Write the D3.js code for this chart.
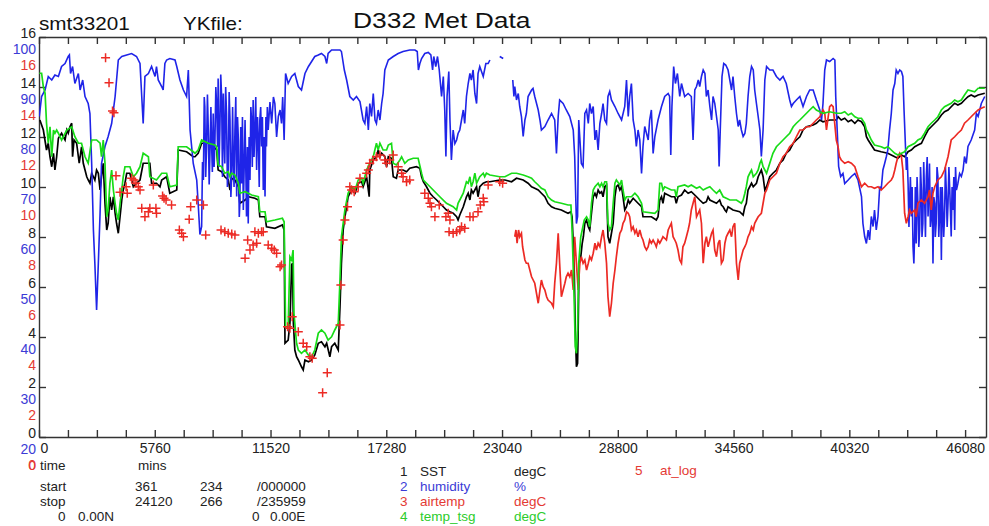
<!DOCTYPE html>
<html>
<head>
<meta charset="utf-8">
<style>
  body { margin: 0; background: #fff; }
  svg text { font-family: "Liberation Sans", Arial, Helvetica, sans-serif; }
</style>
</head>
<body>
<div id="chart"></div>
<script src="https://d3js.org/d3.v7.min.js"></script>
<script>
// time is in days since start (x axis is shown in minutes), values in chart units
var sstData = [
  [0.03,12.68],[0.15,12.28],[0.26,11.48],[0.32,11.75],[0.38,11.21],[0.44,10.81],[0.50,11.35],[0.55,10.68],
  [0.61,11.21],[0.67,11.95],[0.78,12.15],[0.84,12.01],[0.90,11.88],[0.96,12.28],[1.01,12.15],[1.07,12.41],
  [1.13,12.55],[1.16,11.21],[1.21,11.88],[1.30,11.75],[1.39,10.95],[1.47,11.61],[1.53,10.95],[1.59,10.68],
  [1.65,10.41],[1.70,10.28],[1.76,10.15],[1.82,10.55],[1.88,10.41],[1.93,10.28],[1.99,10.68],[2.05,10.55],
  [2.11,9.88],[2.16,10.41],[2.22,10.95],[2.28,9.35],[2.34,8.28],[2.39,8.55],[2.45,9.61],[2.51,9.08],
  [2.57,9.61],[2.63,8.95],[2.68,8.55],[2.74,8.15],[2.80,8.81],[2.86,9.48],[2.91,9.88],[2.97,10.15],
  [3.03,10.55],[3.14,10.55],[3.26,10.01],[3.37,10.15],[3.49,10.28],[3.60,10.95],[3.72,10.95],[3.83,10.95],
  [3.89,10.15],[4.06,10.15],[4.18,10.01],[4.24,10.28],[4.41,10.41],[4.52,9.75],[4.76,9.88],[4.81,11.48],
  [5.10,11.41],[5.33,11.21],[5.39,11.21],[5.50,11.35],[5.62,11.75],[5.85,11.75],[6.08,11.55],[6.14,11.48],
  [6.19,10.68],[6.31,10.61],[6.42,10.41],[6.54,10.28],[6.60,9.88],[6.66,10.35],[6.77,10.28],[6.89,10.01],
  [6.94,9.35],[7.12,9.48],[7.23,9.61],[7.46,9.55],[7.58,9.48],[7.63,8.81],[7.81,8.81],[7.86,8.41],
  [8.15,8.35],[8.41,8.48],[8.47,8.28],[8.50,3.75],[8.61,3.88],[8.67,4.55],[8.73,6.88],[8.76,6.95],
  [8.79,4.55],[8.84,3.48],[8.90,3.21],[8.96,3.08],[9.07,2.81],[9.13,2.68],[9.19,3.08],[9.31,3.01],
  [9.42,3.08],[9.53,3.28],[9.65,3.75],[9.76,3.81],[9.88,3.61],[9.94,3.75],[10.05,3.21],[10.11,3.61],
  [10.22,3.75],[10.34,3.48],[10.40,5.21],[10.45,6.95],[10.51,8.28],[10.57,8.81],[10.63,9.21],[10.68,9.61],
  [10.74,9.75],[10.80,9.88],[10.92,9.75],[11.03,10.15],[11.15,10.21],[11.20,10.01],[11.32,10.41],[11.41,9.61],
  [11.43,10.68],[11.55,11.08],[11.66,11.21],[11.72,11.48],[11.78,11.21],[11.84,11.35],[11.95,11.21],[12.01,10.81],
  [12.07,11.21],[12.18,11.15],[12.24,10.41],[12.35,10.35],[12.41,10.68],[12.58,10.68],[12.70,10.61],[12.81,10.75],
  [13.04,10.81],[13.16,10.75],[13.22,10.41],[13.28,10.21],[13.39,10.01],[13.51,9.75],[13.62,9.61],[13.74,9.48],
  [13.85,9.35],[13.97,9.21],[14.08,9.08],[14.20,9.01],[14.31,8.95],[14.43,8.81],[14.48,8.68],[14.54,8.88],
  [14.66,9.21],[14.77,9.61],[14.83,9.75],[14.89,9.48],[14.94,9.88],[15.00,9.75],[15.12,10.01],[15.17,9.61],
  [15.23,10.01],[15.35,10.15],[15.46,10.21],[15.58,10.21],[15.92,10.28],[16.10,10.28],[16.33,10.21],[16.50,10.35],
  [16.73,10.28],[16.90,10.15],[17.02,10.01],[17.13,9.95],[17.25,9.88],[17.36,9.75],[17.48,9.61],[17.59,9.35],
  [17.71,9.21],[17.82,9.15],[18.05,9.08],[18.17,9.01],[18.28,8.95],[18.38,9.01],[18.42,8.81],[18.49,6.95],
  [18.53,4.28],[18.57,2.81],[18.61,2.95],[18.63,4.28],[18.66,6.95],[18.72,7.21],[18.77,7.75],[18.81,8.01],
  [18.86,8.55],[18.92,8.68],[18.98,8.41],[19.03,8.28],[19.09,8.95],[19.15,9.61],[19.21,9.75],[19.26,9.61],
  [19.32,9.88],[19.38,9.75],[19.44,9.81],[19.49,9.61],[19.55,10.01],[19.61,10.08],[19.66,8.01],[19.72,7.75],
  [19.78,8.15],[19.84,8.55],[19.90,9.61],[19.95,10.01],[20.01,10.08],[20.07,9.88],[20.13,10.01],[20.18,9.61],
  [20.24,9.08],[20.30,9.21],[20.36,9.48],[20.41,9.35],[20.53,9.55],[20.70,9.35],[20.82,9.21],[20.87,8.81],
  [21.16,8.81],[21.33,8.68],[21.39,8.81],[21.45,9.48],[21.51,9.61],[21.56,9.35],[21.62,9.75],[21.85,9.61],
  [21.97,9.61],[22.02,9.35],[22.08,9.61],[22.20,9.68],[22.31,9.88],[22.43,9.75],[22.54,9.81],[22.72,9.61],
  [22.83,9.48],[22.95,9.35],[23.06,9.41],[23.12,9.61],[23.18,9.48],[23.41,9.35],[23.52,9.48],[23.58,9.28],
  [23.64,9.21],[23.70,9.08],[23.75,9.01],[23.81,9.21],[23.98,9.08],[24.21,9.01],[24.33,8.88],[24.39,9.21],
  [24.44,9.35],[24.50,9.88],[24.62,10.15],[24.68,10.01],[24.79,10.15],[24.85,10.41],[24.96,10.68],[25.02,10.41],
  [25.08,9.88],[25.14,10.01],[25.25,10.41],[25.36,10.55],[25.48,10.68],[25.60,10.95],[25.71,11.08],[25.82,11.35],
  [25.94,11.48],[26.06,11.75],[26.17,11.88],[26.29,12.01],[26.40,12.28],[26.52,12.41],[26.75,12.48],[26.86,12.55],
  [26.98,12.68],[27.09,12.61],[27.32,12.68],[27.55,12.68],[27.61,12.81],[27.72,12.68],[27.84,12.75],[27.96,12.61],
  [28.07,12.68],[28.19,12.55],[28.30,12.68],[28.42,12.61],[28.53,12.41],[28.59,12.01],[28.65,11.88],[28.76,11.68],
  [28.87,11.48],[29.10,11.41],[29.33,11.35],[29.45,11.28],[29.57,11.21],[29.68,11.15],[29.80,11.28],[29.91,11.21],
  [30.03,11.41],[30.14,11.48],[30.26,11.61],[30.37,11.68],[30.49,11.75],[30.60,12.01],[30.72,12.28],[30.83,12.41],
  [30.95,12.55],[31.06,12.68],[31.18,12.88],[31.29,13.01],[31.41,13.08],[31.52,13.21],[31.64,13.35],[31.75,13.28],
  [31.87,13.35],[31.98,13.48],[32.10,13.61],[32.21,13.68],[32.33,13.61],[32.45,13.68],[32.68,13.75]
];

var humidityData = [
  [0.01,84.1],[0.09,88.1],[0.21,89.4],[0.32,92.1],[0.44,91.4],[0.55,92.4],[0.67,92.1],[0.78,94.1],
  [0.90,94.7],[1.01,96.1],[1.05,96.4],[1.09,92.7],[1.16,94.1],[1.24,90.7],[1.36,92.7],[1.42,89.4],
  [1.51,91.4],[1.59,88.1],[1.70,86.7],[1.76,84.7],[1.82,74.7],[1.88,61.4],[1.93,54.7],[1.99,45.4],
  [2.05,54.7],[2.11,64.7],[2.16,74.7],[2.28,78.1],[2.39,80.1],[2.51,82.7],[2.63,88.1],[2.74,95.4],
  [2.86,96.1],[3.03,96.4],[3.20,96.7],[3.37,96.1],[3.49,94.7],[3.55,88.1],[3.60,82.7],[3.66,92.1],
  [3.78,92.7],[3.89,94.1],[4.01,92.1],[4.06,94.1],[4.12,91.4],[4.24,90.1],[4.29,89.4],[4.35,94.7],
  [4.41,95.4],[4.52,95.7],[4.70,95.4],[4.76,94.1],[4.87,91.4],[4.99,89.4],[5.10,88.1],[5.16,93.4],
  [5.22,81.4],[5.33,74.7],[5.45,71.4],
  [5.50,66.7],[5.56,60.5],[5.62,62.1],[5.65,75.0],[5.68,71.4],[5.71,88.0],[5.73,86.1],[5.76,72.0],
  [5.79,78.1],[5.82,88.5],[5.85,81.4],[5.88,70.5],[5.91,77.4],[5.94,86.0],[5.96,79.4],[5.99,73.0],
  [6.02,84.7],[6.05,74.0],[6.08,79.4],[6.11,90.0],[6.14,86.1],[6.17,78.0],[6.19,91.7],[6.22,74.0],
  [6.25,81.4],[6.28,92.5],[6.31,88.1],[6.34,72.0],[6.37,88.7],[6.40,79.0],[6.42,74.7],[6.45,90.0],
  [6.48,84.7],[6.51,70.0],[6.54,73.4],[6.57,89.0],[6.60,83.4],[6.63,68.0],[6.66,72.7],[6.69,86.0],
  [6.71,76.1],[6.74,70.0],[6.77,81.4],[6.80,88.0],[6.83,68.1],[6.86,84.0],[6.89,79.4],[6.92,64.0],
  [6.94,66.7],[6.97,82.0],[7.00,70.7],[7.03,84.0],[7.06,65.4],[7.09,74.0],[7.12,83.4],[7.15,72.0],
  [7.17,64.1],[7.20,78.0],[7.23,62.7],[7.26,80.0],[7.29,71.4],[7.32,86.0],[7.35,82.7],[7.37,74.0],
  [7.40,87.4],[7.43,76.0],[7.46,81.4],[7.49,88.0],[7.52,73.4],[7.55,84.0],[7.58,79.4],[7.61,70.0],
  [7.63,83.4],[7.66,86.0],[7.69,78.1],[7.72,84.0],[7.75,69.4],[7.78,80.0],[7.81,68.1],[7.84,84.0],
  [7.86,78.1],[7.89,86.0],[7.92,81.4],[7.98,87.0],[8.04,82.7],[8.10,88.0],[8.15,86.7],[8.21,80.0],
  [8.27,84.1],[8.33,85.4],[8.38,82.7],[8.42,88.0],[8.47,79.4],
  [8.52,92.7],[8.61,90.7],[8.73,92.1],[8.84,92.7],[8.96,90.1],[9.07,89.4],[9.19,92.7],[9.31,94.1],
  [9.42,95.1],[9.53,96.1],[9.65,96.4],[9.76,96.7],[9.88,96.1],[9.94,94.7],[9.99,96.7],[10.11,97.4],
  [10.22,97.4],[10.40,97.4],[10.45,97.1],[10.55,93.4],[10.63,91.4],[10.74,88.1],[10.86,87.4],[10.97,88.1],
  [11.09,87.1],[11.20,83.4],
  [11.26,82.7],[11.32,86.1],[11.38,81.4],[11.43,86.7],[11.49,84.1],[11.55,88.7],[11.61,83.4],[11.66,82.7],
  [11.72,85.4],[11.78,83.4],[11.84,86.7],[11.89,88.7],[11.95,93.4],[12.07,95.4],[12.24,96.1],[12.41,96.7],
  [12.58,97.1],[12.81,97.4],[12.99,97.4],[13.07,97.1],[13.11,93.4],[13.16,94.7],[13.22,95.7],[13.33,96.7],
  [13.45,96.9],[13.54,96.4],[13.60,93.4],[13.64,96.1],[13.71,94.1],[13.77,96.1],[13.83,93.4],[13.91,88.1],
  [13.97,92.1],[14.02,85.4],[14.06,76.1],[14.10,88.1],[14.16,93.1],[14.20,83.4],[14.25,75.4],[14.31,81.4],
  [14.37,78.7],[14.43,79.4],[14.48,80.7],[14.54,81.4],[14.60,83.4],[14.66,85.4],[14.71,82.7],[14.77,88.1],
  [14.83,90.7],[14.89,92.7],[14.94,91.4],[15.00,93.4],[15.06,88.7],[15.12,86.7],[15.17,92.7],[15.23,94.1],
  [15.35,92.1],[15.44,94.7],[15.52,94.7],[15.58,95.4],[15.70,null],[15.92,96.1],[16.04,95.7],[16.20,null],
  [16.37,91.4],[16.41,88.1],[16.44,90.1],[16.50,87.4],[16.56,88.7],[16.61,86.1],[16.67,84.1],[16.73,80.1],
  [16.79,83.4],
  [16.84,84.7],[16.90,88.1],[17.02,89.4],[17.07,89.7],[17.13,88.1],[17.25,85.4],[17.31,83.4],[17.36,81.4],
  [17.48,82.1],[17.59,83.4],[17.71,84.7],[17.82,83.4],[17.88,76.7],[17.94,84.1],[17.99,87.4],[18.11,86.7],
  [18.22,85.4],[18.34,84.1],[18.46,81.4],[18.51,76.1],[18.57,62.7],[18.61,64.1],[18.65,83.4],[18.74,74.7],
  [18.80,74.1],[18.86,84.7],[18.92,85.4],[18.98,82.7],[19.03,86.7],[19.09,84.7],[19.15,86.1],[19.21,79.4],
  [19.26,81.4],[19.32,77.4],[19.38,82.7],[19.44,84.7],[19.49,86.7],[19.55,83.4],[19.61,82.7],[19.66,88.1],
  [19.72,89.1],[19.78,87.4],[19.90,86.1],[20.01,84.7],[20.13,83.4],[20.24,86.1],[20.30,91.4],[20.36,84.1],
  [20.41,88.1],[20.47,90.7],[20.53,83.4],[20.59,81.4],[20.64,78.1],[20.70,81.4],[20.76,79.4],[20.82,72.7],
  [20.87,78.1],[20.93,82.1],[21.05,79.4],[21.10,83.4],[21.16,85.4],[21.22,76.7],[21.28,80.1],[21.39,83.4],
  [21.51,86.1],[21.62,88.1],[21.74,88.7],[21.79,88.1],[21.83,76.4],[21.87,86.1],[21.93,94.1],[21.99,90.7],
  [22.06,92.7],[22.14,88.1],[22.20,90.7],[22.31,88.1],[22.43,88.7],
  [22.54,88.1],[22.60,79.4],[22.66,89.4],[22.72,90.1],[22.78,91.4],[22.83,90.1],[22.89,92.1],[22.95,93.4],
  [23.01,92.7],[23.06,88.1],[23.12,89.4],[23.18,86.1],[23.24,83.4],[23.29,88.1],[23.35,86.7],[23.41,84.1],
  [23.47,81.4],[23.50,74.1],[23.54,81.4],[23.60,92.1],[23.66,94.7],[23.73,94.4],[23.81,93.4],[23.87,91.4],
  [23.93,89.4],[23.98,92.1],[24.04,88.1],[24.10,84.7],[24.16,82.1],[24.21,83.4],[24.27,81.4],[24.33,80.1],
  [24.39,80.7],[24.44,82.7],[24.50,88.1],[24.56,92.1],[24.62,94.1],[24.68,93.4],[24.73,89.4],[24.79,86.7],
  [24.85,84.1],[24.91,81.4],[24.96,76.1],[25.02,81.4],[25.08,91.4],[25.14,94.1],[25.25,93.4],[25.36,93.4],
  [25.48,92.1],[25.60,91.4],[25.71,92.1],[25.82,90.7],[25.94,87.4],[26.00,86.1],[26.06,86.7],[26.17,87.4],
  [26.29,88.1],[26.40,86.1],[26.52,88.1],[26.63,89.4],[26.75,89.4],[26.86,87.4],[26.98,85.4],[27.04,83.4],
  [27.09,86.7],[27.15,93.4],[27.21,95.4],[27.32,95.1],[27.44,95.7],[27.50,95.4],
  [27.53,88.1],[27.59,80.1],[27.63,74.1],[27.70,72.1],[27.78,72.7],[27.84,70.7],[27.96,71.4],[28.07,72.1],
  [28.19,72.7],[28.30,71.4],[28.42,68.1],[28.47,62.7],[28.53,60.1],[28.59,58.7],[28.65,61.4],[28.70,59.4],
  [28.76,64.1],[28.82,62.1],[28.87,65.4],[28.93,61.4],[28.99,64.1],[29.05,70.1],[29.10,69.4],[29.16,73.4],
  [29.22,74.7],[29.28,76.1],[29.33,77.4],[29.39,81.4],[29.45,84.7],[29.51,89.4],[29.57,90.7],[29.62,93.4],
  [29.68,92.7],[29.74,93.4],[29.80,93.1],[29.85,92.1],
  [29.89,85.4],[29.94,78.1],[29.97,73.4],[30.00,76.0],[30.03,70.7],[30.06,62.0],[30.08,66.7],[30.11,72.0],
  [30.14,64.1],[30.17,70.0],[30.20,58.1],[30.23,54.7],[30.26,61.4],[30.28,70.0],[30.31,58.7],[30.34,72.0],
  [30.37,66.7],[30.40,58.0],[30.43,61.4],[30.46,74.0],[30.49,69.4],[30.51,60.0],[30.54,62.7],[30.57,75.0],
  [30.60,68.1],[30.63,60.0],[30.66,72.1],[30.69,76.0],[30.72,64.1],[30.75,70.0],[30.77,74.7],[30.80,62.0],
  [30.83,64.1],[30.86,70.0],[30.89,54.7],[30.92,68.0],[30.95,66.7],[30.97,60.0],[31.00,62.7],[31.03,74.0],
  [31.06,72.1],[31.09,60.0],[31.12,64.7],[31.15,70.0],[31.18,55.4],[31.21,70.0],[31.23,66.1],[31.26,60.0],
  [31.29,64.1],[31.32,74.0],[31.35,69.4],[31.38,62.0],[31.41,66.7],[31.44,74.0],[31.47,69.4],[31.50,64.0],
  [31.52,60.1],[31.55,70.0],[31.58,65.4],[31.61,72.0],[31.64,61.4],[31.67,74.0],[31.70,69.4],[31.75,70.7],
  [31.81,72.7],[31.87,72.1],[31.93,73.4],[31.98,76.1],[32.04,74.7],[32.10,78.1],[32.21,79.4],[32.33,81.4],
  [32.39,84.7],[32.45,84.1],[32.56,86.7],[32.68,88.1]
];

var airtempData = [
  [16.44,8.01],[16.48,8.28],[16.52,7.75],[16.57,8.28],[16.61,8.01],[16.67,8.15],[16.71,7.61],[16.75,7.35],
  [16.79,7.08],[16.84,6.95],[16.90,6.95],[17.02,6.41],[17.13,6.15],[17.19,5.75],[17.25,5.35],[17.31,5.88],
  [17.36,6.28],[17.42,6.01],[17.48,5.88],[17.54,5.61],[17.59,5.48],[17.71,5.35],[17.77,5.21],[17.82,6.15],
  [17.88,6.95],[17.94,8.15],[17.99,6.95],[18.05,5.61],[18.11,5.88],[18.17,6.15],[18.22,6.41],[18.28,6.55],
  [18.34,6.41],[18.40,6.68],[18.46,5.88],[18.51,8.01],[18.57,6.95],[18.63,5.88],[18.69,6.95],[18.74,7.21],
  [18.80,6.95],[18.86,7.08],[18.92,6.68],[18.98,6.95],[19.03,7.21],[19.09,7.08],[19.15,7.35],[19.21,7.75],
  [19.26,7.48],[19.32,7.75],[19.38,7.61],[19.44,8.01],[19.49,8.28],[19.55,7.75],[19.61,6.95],[19.66,5.61],
  [19.72,4.81],[19.78,5.35],[19.84,6.15],[19.90,6.68],[19.95,7.21],[20.01,7.75],[20.07,8.15],[20.13,8.28],
  [20.18,8.55],[20.24,8.68],[20.30,9.01],[20.36,8.95],[20.41,8.81],[20.47,8.28],[20.53,8.41],[20.59,8.15],
  [20.64,8.28],[20.70,8.01],[20.76,8.28],[20.82,8.01],[20.87,7.88],[20.93,7.61],[20.99,7.48],[21.05,7.61],
  [21.10,7.88],[21.16,7.75],[21.22,7.88],[21.28,7.75],[21.33,7.61],[21.39,7.88],[21.45,7.75],[21.51,7.88],
  [21.56,8.01],[21.62,7.95],[21.68,7.88],[21.74,8.28],[21.79,8.41],[21.85,8.55],[21.91,8.01],[21.97,7.88],
  [22.02,7.75],[22.08,7.48],[22.14,7.08],[22.20,6.95],[22.25,7.61],[22.31,7.75],[22.37,8.01],[22.43,8.28],
  [22.48,8.55],[22.54,9.08],[22.60,9.35],[22.66,9.61],[22.72,8.81],[22.83,9.08],[22.89,8.55],[22.95,6.95],
  [23.01,7.75],[23.06,8.01],[23.12,7.61],[23.18,7.88],[23.24,8.15],[23.29,8.28],[23.35,7.48],[23.41,7.21],
  [23.47,7.75],[23.52,7.88],[23.58,6.95],[23.64,7.08],[23.70,7.75],[23.75,8.01],[23.81,8.15],[23.87,8.28],
  [23.93,8.01],[23.98,8.41],[24.04,8.55],[24.10,6.95],[24.16,6.28],[24.21,6.95],[24.27,7.21],[24.33,7.48],
  [24.39,7.61],[24.44,7.75],[24.50,8.01],[24.56,8.15],[24.62,8.41],[24.68,8.28],[24.73,8.55],[24.79,8.68],
  [24.85,8.81],[24.96,8.95],[25.02,9.35],[25.08,9.75],[25.14,9.88],[25.25,10.28],[25.36,10.41],[25.48,10.55],
  [25.60,10.95],[25.71,11.21],[25.82,11.35],[25.94,11.61],[26.06,11.75],[26.17,12.01],[26.29,12.28],[26.40,12.28],
  [26.52,12.41],[26.63,12.41],[26.75,12.55],[26.86,12.68],[26.98,12.81],[27.09,13.08],[27.15,12.95],[27.21,12.28],
  [27.27,12.81],[27.32,13.21],[27.38,13.28],[27.44,13.21],[27.55,11.88],[27.61,11.61],[27.66,11.21],[27.72,11.08],
  [27.84,10.95],[27.96,11.01],[28.07,10.95],[28.19,10.81],[28.30,10.41],[28.42,10.01],[28.53,10.15],[28.65,10.01],
  [28.76,10.01],[28.87,9.95],[28.99,10.01],[29.10,9.88],[29.22,10.01],[29.33,10.15],[29.45,10.28],[29.51,10.41],
  [29.57,10.68],[29.62,10.95],[29.68,11.21],[29.74,11.35],[29.80,11.21],[29.85,10.68],[29.91,8.95],[29.97,8.55],
  [30.03,8.81],[30.08,9.08],[30.14,8.95],[30.26,9.08],[30.31,8.81],[30.37,9.35],[30.49,9.48],[30.60,9.35],
  [30.72,9.61],[30.77,9.88],[30.83,9.08],[30.89,9.75],[30.95,10.01],[31.06,10.28],[31.18,10.41],[31.29,10.68],
  [31.41,11.21],[31.52,11.88],[31.64,12.01],[31.75,12.15],[31.87,12.28],[31.98,12.55],[32.10,12.68],[32.21,12.81],
  [32.33,12.95],[32.45,13.08],[32.56,13.15],[32.68,13.21]
];

var tsgData = [
  [0.01,14.55],[0.09,14.55],[0.15,14.01],[0.21,13.75],[0.26,12.55],[0.32,11.75],[0.38,12.41],[0.44,11.21],
  [0.50,12.28],[0.55,12.15],[0.61,12.28],[0.67,12.15],[0.78,11.88],[0.96,12.28],[1.13,12.41],[1.24,12.01],
  [1.36,11.75],[1.47,11.75],[1.59,11.21],[1.70,10.95],[1.82,11.88],[1.99,11.88],[2.11,11.75],[2.16,11.21],
  [2.22,11.88],[2.28,10.95],[2.34,8.81],[2.39,9.08],[2.45,10.15],[2.51,10.68],[2.57,9.88],[2.63,9.35],
  [2.68,8.95],[2.74,8.68],[2.80,9.35],[2.86,9.88],[2.91,10.41],[2.97,10.81],[3.14,10.81],[3.26,10.41],
  [3.37,10.55],[3.49,10.81],[3.60,11.35],[3.78,11.21],[3.83,10.41],[4.06,10.28],[4.24,10.55],[4.41,10.55],
  [4.52,10.01],[4.76,10.08],[4.81,11.61],[5.10,11.61],[5.33,11.41],[5.39,11.35],[5.50,11.48],[5.62,11.88],
  [5.85,11.75],[6.08,11.68],[6.14,11.61],[6.19,10.88],[6.31,10.81],[6.42,10.55],[6.54,10.61],[6.60,10.41],
  [6.66,10.55],[6.77,10.48],[6.89,10.15],[6.94,9.75],[7.12,9.81],[7.35,9.68],[7.58,9.61],[7.63,9.01],
  [7.81,9.01],[7.86,8.61],[8.15,8.68],[8.41,8.75],[8.47,8.61],[8.52,4.41],[8.61,4.41],[8.67,7.21],
  [8.73,7.08],[8.78,7.48],[8.81,4.95],[8.90,3.75],[8.96,3.48],[9.07,3.35],[9.19,3.48],[9.31,3.28],
  [9.42,3.21],[9.53,3.48],[9.65,4.15],[9.76,4.28],[9.88,4.15],[9.99,3.88],[10.11,4.01],[10.22,4.28],
  [10.34,4.55],[10.40,6.28],[10.45,8.01],[10.57,9.08],[10.68,9.75],[10.80,10.01],[10.92,9.88],[11.03,10.28],
  [11.15,10.35],[11.20,10.15],[11.32,10.68],[11.43,10.95],[11.55,11.21],[11.66,11.75],[11.72,11.48],[11.78,11.75],
  [11.89,11.48],[12.01,11.48],[12.07,11.68],[12.18,11.75],[12.24,10.95],[12.35,10.88],[12.47,11.08],[12.53,11.21],
  [12.64,10.95],[12.76,11.08],[12.93,11.15],[13.10,11.15],[13.22,10.55],[13.28,10.28],[13.39,10.15],[13.51,10.01],
  [13.62,9.88],[13.85,9.61],[14.08,9.35],[14.31,9.21],[14.43,9.08],[14.48,9.35],[14.54,9.48],[14.66,9.75],
  [14.77,10.21],[14.83,10.15],[14.89,10.41],[14.94,10.01],[15.00,10.21],[15.06,10.55],[15.12,10.15],[15.23,10.41],
  [15.35,10.55],[15.40,10.41],[15.46,10.55],[15.58,10.48],[15.92,10.41],[16.10,10.41],[16.33,10.55],[16.50,10.55],
  [16.73,10.48],[16.90,10.41],[17.02,10.35],[17.13,10.21],[17.25,10.08],[17.36,9.95],[17.48,9.88],[17.59,9.61],
  [17.71,9.48],[17.82,9.41],[18.05,9.35],[18.28,9.28],[18.38,9.28],[18.42,8.28],[18.49,5.61],[18.53,3.61],
  [18.57,3.35],[18.61,4.28],[18.65,6.95],[18.72,8.01],[18.77,8.28],[18.84,8.68],[18.92,8.81],[18.98,8.68],
  [19.03,8.41],[19.09,9.35],[19.15,9.88],[19.21,10.01],[19.32,10.15],[19.38,10.01],[19.44,10.15],[19.49,10.01],
  [19.55,10.21],[19.61,10.21],[19.66,8.55],[19.72,8.28],[19.78,8.41],[19.84,9.35],[19.90,10.15],[19.95,10.28],
  [20.07,10.08],[20.13,10.28],[20.18,9.88],[20.24,9.48],[20.30,9.61],[20.47,9.61],[20.59,9.75],[20.70,9.61],
  [20.82,9.35],[20.87,9.01],[21.28,8.95],[21.39,9.08],[21.45,10.15],[21.51,10.15],[21.56,9.88],[21.62,10.01],
  [21.85,9.88],[21.97,9.88],[22.02,9.61],[22.08,10.01],[22.31,10.08],[22.43,10.01],[22.54,10.08],[22.72,9.95],
  [22.83,10.01],[22.95,9.88],[23.06,9.95],[23.18,10.01],[23.29,9.88],[23.41,9.75],[23.52,9.88],[23.64,9.61],
  [23.75,9.55],[23.87,9.48],[24.10,9.48],[24.27,9.35],[24.33,9.48],[24.39,9.75],[24.44,10.01],[24.50,10.41],
  [24.56,10.55],[24.62,10.68],[24.68,10.41],[24.79,10.55],[24.85,10.68],[24.91,10.95],[24.96,11.08],[25.02,10.81],
  [25.14,10.55],[25.25,10.95],[25.36,11.35],[25.48,11.61],[25.60,11.75],[25.71,11.88],[25.82,12.01],[25.94,12.15],
  [26.06,12.41],[26.17,12.55],[26.29,12.68],[26.40,12.81],[26.52,12.95],[26.63,13.08],[26.75,13.21],[26.86,13.08],
  [26.98,13.01],[27.09,12.95],[27.32,13.01],[27.55,12.95],[27.61,12.95],[27.72,12.95],[27.84,13.01],[27.96,12.88],
  [28.07,12.95],[28.19,12.81],[28.30,12.75],[28.42,12.75],[28.53,12.55],[28.59,12.28],[28.65,12.15],[28.76,11.88],
  [28.87,11.68],[29.10,11.61],[29.22,11.55],[29.33,11.61],[29.45,11.48],[29.57,11.35],[29.68,11.28],[29.80,11.35],
  [29.91,11.41],[30.03,11.61],[30.26,11.75],[30.37,11.88],[30.49,11.95],[30.60,12.15],[30.72,12.41],[30.83,12.55],
  [30.95,12.68],[31.06,12.81],[31.18,13.08],[31.29,13.21],[31.52,13.35],[31.64,13.48],[31.75,13.41],[31.87,13.48],
  [31.98,13.68],[32.10,13.88],[32.33,13.81],[32.45,13.95],[32.68,13.95]
];

var atLogData = [
  [2.30,15.17],[2.42,14.17],[2.54,13.04],[2.59,12.97],[2.66,10.45],[2.80,9.79],[3.01,10.01],[3.05,9.75],
  [3.20,10.35],[3.28,10.28],[3.35,10.15],[3.43,10.01],[3.49,9.88],[3.55,9.15],[3.66,8.81],[3.78,9.01],
  [3.83,9.15],[3.95,10.08],[4.04,9.15],[4.06,8.95],[4.27,9.64],[4.32,9.55],[4.39,9.48],[4.58,9.28],
  [4.85,8.28],[4.93,8.15],[4.99,8.01],[5.19,8.71],[5.24,9.21],[5.45,9.48],[5.68,9.28],[5.76,8.08],
  [6.29,8.28],[6.42,8.21],[6.54,8.15],[6.66,8.12],[6.77,8.08],[7.12,7.15],[7.21,7.88],[7.29,7.48],
  [7.40,7.68],[7.46,8.21],[7.52,7.75],[7.58,8.15],[7.69,8.21],[7.75,8.21],[7.92,7.68],[8.04,7.55],
  [8.13,7.48],[8.21,7.35],[8.33,6.81],[8.38,6.88],[8.59,4.41],[8.67,4.35],[8.75,4.81],[8.96,4.21],
  [9.13,3.75],[9.25,3.61],[9.36,3.21],[9.44,3.15],[9.80,1.77],[9.96,2.57],[10.40,4.48],[10.43,6.08],
  [10.51,7.88],[10.57,8.68],[10.66,9.21],[10.74,10.01],[10.80,9.88],[10.89,9.81],[11.03,10.01],[11.09,10.35],
  [11.32,10.55],[11.38,10.68],[11.43,10.95],[11.55,11.08],[11.66,11.21],[11.78,11.28],[11.95,11.08],[12.01,10.95],
  [12.12,11.08],[12.24,11.28],[12.41,10.81],[12.53,10.55],[12.58,10.41],[12.70,10.21],[12.81,10.28],[13.33,9.75],
  [13.45,9.55],[13.51,9.35],[13.56,9.21],[13.68,8.81],[13.83,9.28],[14.06,8.81],[14.14,8.95],[14.17,8.21],
  [14.20,8.68],[14.31,8.15],[14.43,8.21],[14.54,8.28],[14.60,8.41],[14.71,8.35],[14.89,8.81],[15.00,8.81],
  [15.17,9.01],[15.25,9.28],[15.35,9.55],[15.37,9.41],[15.52,10.08],[15.92,10.21],[16.02,10.15]
];

var xTickLabels = [0, 5760, 11520, 17280, 23040, 28800, 34560, 40320, 46080];
var sstTicks = [0, 2, 4, 6, 8, 10, 12, 14, 16];
var humidityTicks = [20, 30, 40, 50, 60, 70, 80, 90, 100];
var airtempTicks = [0, 2, 4, 6, 8, 10, 12, 14, 16];

var legendNums = ["1", "2", "3", "4"];
var legendNames = ["SST", "humidity", "airtemp", "temp_tsg"];
var legendUnits = ["degC", "%", "degC", "degC"];

var col = { sst: "#000000", hum: "#1f24e8", air: "#ec2a24", tsg: "#18dc18" };
var labelCol = { sst: "#222222", hum: "#3b3bd6", air: "#e43a34", tsg: "#2ccc2c" };

var width = 989, height = 526;
var svg = d3.select("#chart").append("svg")
    .attr("width", width).attr("height", height);

var x = d3.scaleLinear().domain([0, 47120]).range([39, 986]);
var y = d3.scaleLinear().domain([0, 16]).range([437, 37]);
var yHum = d3.scaleLinear().domain([20, 100]).range([437, 37]);

// axes (ticks point into the plot)
var dayTicks = d3.range(0, 47000, 1440);
var axisColor = "#333";

var gB = svg.append("g").attr("transform", "translate(0,437)")
    .call(d3.axisBottom(x).tickValues(dayTicks).tickSizeInner(-7).tickSizeOuter(0).tickPadding(6)
        .tickFormat(function(d) { return xTickLabels.indexOf(d) >= 0 ? d : ""; }));
gB.selectAll("text").style("font-size", "14px").attr("fill", "#222");
gB.selectAll("text").filter(function(d) { return d === 0; })
    .attr("text-anchor", "start").attr("x", 1);

var gT = svg.append("g").attr("transform", "translate(0,37)")
    .call(d3.axisTop(x).tickValues(dayTicks).tickSizeInner(-7).tickSizeOuter(0).tickFormat(""));
var gL = svg.append("g").attr("transform", "translate(39,0)")
    .call(d3.axisLeft(y).tickValues(sstTicks).tickSizeInner(-7).tickSizeOuter(0).tickFormat(""));
var gR = svg.append("g").attr("transform", "translate(986,0)")
    .call(d3.axisRight(y).tickValues(sstTicks).tickSizeInner(-7).tickSizeOuter(0).tickFormat(""));

[gB, gT, gL, gR].forEach(function(g) {
  g.selectAll("path, line").attr("stroke", axisColor).attr("stroke-width", 1.4);
});

// stacked left labels: SST, humidity, airtemp
function yLabels(values, scale, offset, color) {
  svg.append("g").selectAll("text").data(values).enter().append("text")
      .attr("x", 36).attr("y", function(d) { return scale(d) + offset; }).attr("dy", "0.35em")
      .attr("text-anchor", "end").style("font-size", "14px").attr("fill", color)
      .text(function(d) { return d; });
}
yLabels(sstTicks, y, -4, labelCol.sst);
yLabels(humidityTicks, yHum, 12, labelCol.hum);
yLabels(airtempTicks, y, 28, labelCol.air);

// clip to plot
svg.append("clipPath").attr("id", "plotclip").append("rect")
    .attr("x", 39).attr("y", 37).attr("width", 947).attr("height", 400);
var plot = svg.append("g").attr("clip-path", "url(#plotclip)");

function tx(d) { return x(d[0] * 1440); }
var lineV = d3.line().defined(function(d) { return d[1] != null; })
    .x(tx).y(function(d) { return y(d[1]); });
var lineH = d3.line().defined(function(d) { return d[1] != null; })
    .x(tx).y(function(d) { return yHum(d[1]); });

plot.append("path").datum(sstData).attr("d", lineV)
    .attr("fill", "none").attr("stroke", col.sst).attr("stroke-width", 1.7);
plot.append("path").datum(humidityData).attr("d", lineH)
    .attr("fill", "none").attr("stroke", col.hum).attr("stroke-width", 1.6);
plot.append("path").datum(airtempData).attr("d", lineV)
    .attr("fill", "none").attr("stroke", col.air).attr("stroke-width", 1.7);
plot.append("path").datum(tsgData).attr("d", lineV)
    .attr("fill", "none").attr("stroke", col.tsg).attr("stroke-width", 1.7);

plot.selectAll(".plus").data(atLogData).enter().append("path")
    .attr("class", "plus")
    .attr("transform", function(d) { return "translate(" + tx(d) + "," + y(d[1]) + ")"; })
    .attr("d", "M-4.5,0H4.5M0,-4.5V4.5")
    .attr("stroke", col.air).attr("stroke-width", 1.5);

// titles
function stretched(txt, px, py, size, sx, color) {
  svg.append("text").attr("transform", "translate(" + px + "," + py + ") scale(" + sx + ",1)")
     .style("font-size", size + "px").attr("fill", color || "#111").text(txt);
}
stretched("smt33201", 39, 30, 18, 1.15);
stretched("YKfile:", 183, 30, 18, 1.15);
stretched("D332 Met Data", 353, 28, 22, 1.2);

// footer text
function label(txt, px, py, color, anchor) {
  svg.append("text").attr("x", px).attr("y", py).attr("dy", "0.35em")
     .attr("text-anchor", anchor || "start").style("font-size", "13.5px")
     .attr("fill", color || "#222").text(txt);
}
label("0", 36, 465, labelCol.air, "end");
label("time", 40, 465);
label("mins", 138, 465);
label("start", 40, 486);
label("361", 135, 486);
label("234", 200, 486);
label("/000000", 257, 486);
label("stop", 40, 501);
label("24120", 135, 501);
label("266", 200, 501);
label("/235959", 257, 501);
label("0", 58, 516);
label("0.00N", 78, 516);
label("0", 252, 516);
label("0.00E", 270, 516);

var legendCols = [labelCol.sst, labelCol.hum, labelCol.air, labelCol.tsg];
var legendY = [471, 486, 501, 516];
legendNums.forEach(function(n, i) {
  label(n, 400, legendY[i], legendCols[i]);
  label(legendNames[i], 420, legendY[i], legendCols[i]);
  label(legendUnits[i], 514, legendY[i], legendCols[i]);
});
label("5", 635, 470, labelCol.air);
label("at_log", 660, 470, labelCol.air);
</script>
</body>
</html>
